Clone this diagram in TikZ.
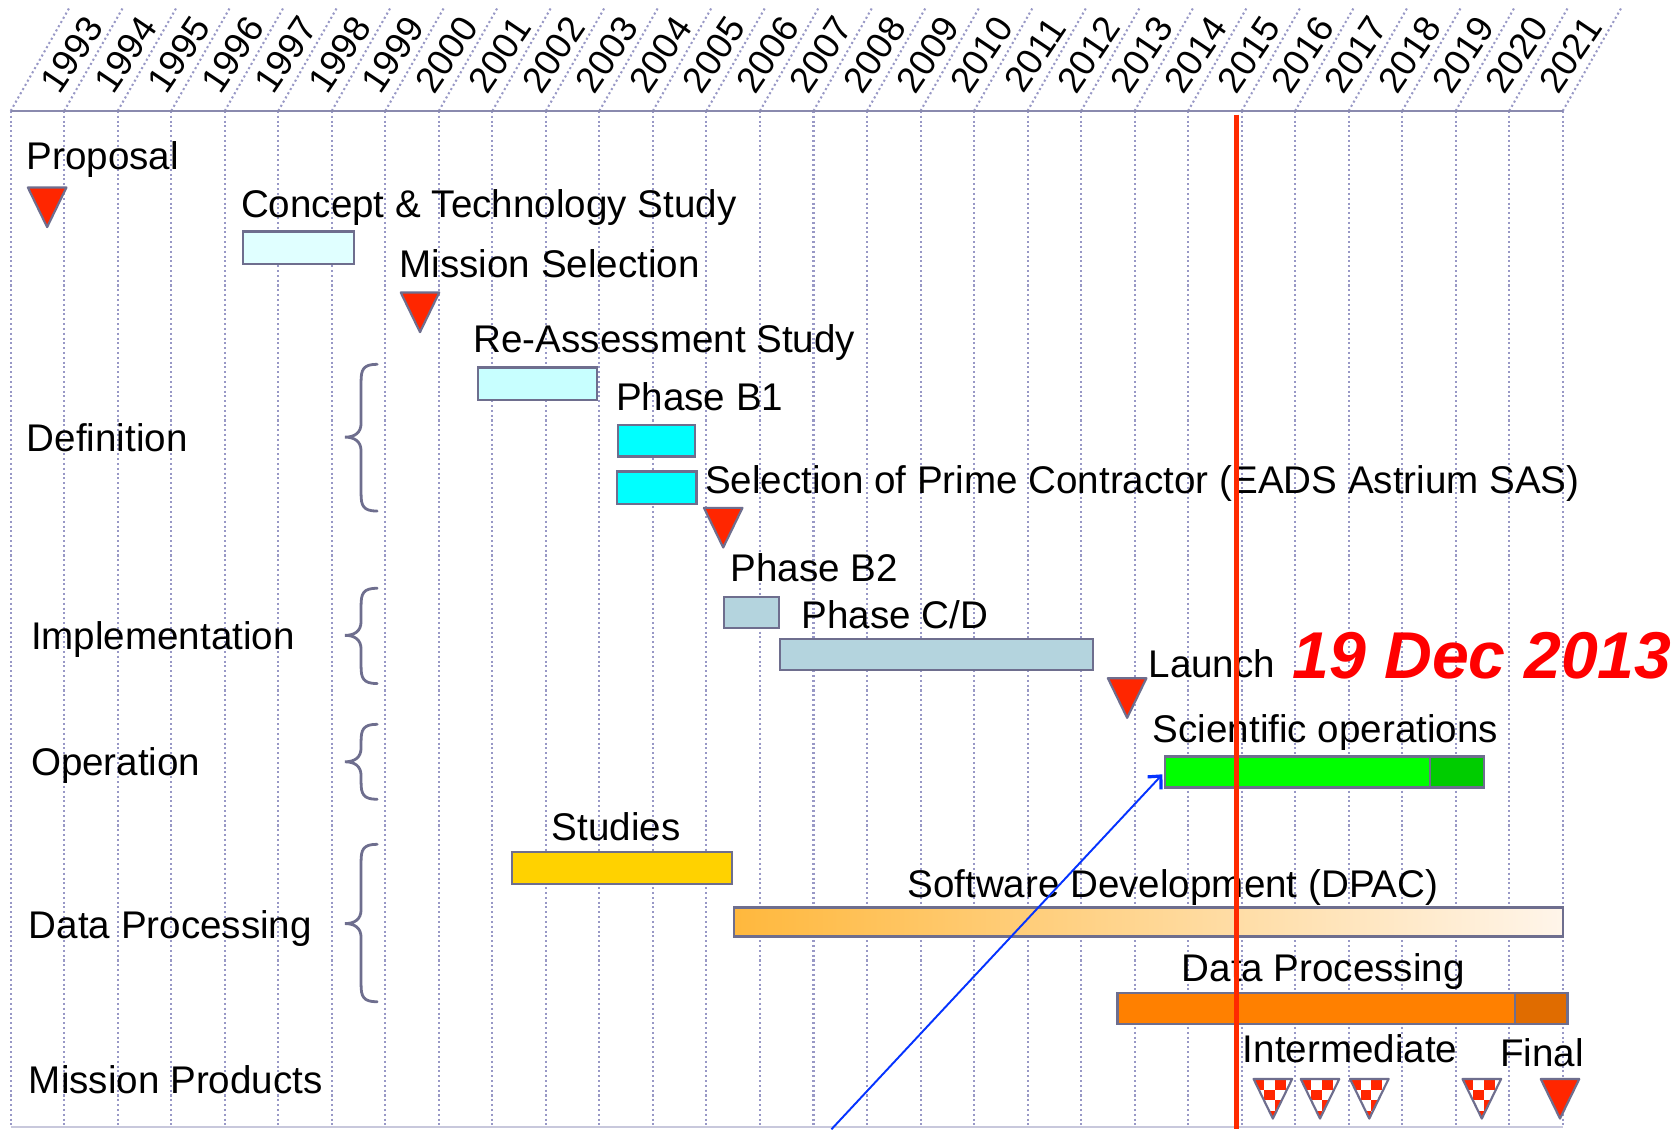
\documentclass[tikz,border=0pt]{standalone}
\usepackage{fontspec}
\setmainfont{Liberation Sans}
\usetikzlibrary{arrows.meta}

\definecolor{gridc}{HTML}{9898C6}
\definecolor{axisc}{HTML}{8A8AAE}
\definecolor{basec}{HTML}{C8C8DC}
\definecolor{edgec}{HTML}{6E6E8E}
\definecolor{mred}{HTML}{FF2600}
\definecolor{nowred}{HTML}{FF2A00}
\definecolor{paleCyan}{HTML}{E0FFFF}
\definecolor{lightCyan}{HTML}{C8FFFF}
\definecolor{fullCyan}{HTML}{00FFFF}
\definecolor{steel}{HTML}{B4D4DE}
\definecolor{opsGreen}{HTML}{00FF00}
\definecolor{opsDark}{HTML}{00CC00}
\definecolor{gold}{HTML}{FFD200}
\definecolor{swLeft}{HTML}{FFB83D}
\definecolor{swRight}{HTML}{FFF5EA}
\definecolor{dpOrange}{HTML}{FF8000}
\definecolor{dpDark}{HTML}{E06C00}
\definecolor{arrowBlue}{HTML}{0533FF}

\newcommand\bodyfont{\fontsize{36}{42}\selectfont}
\newcommand\yearfont{\fontsize{34}{40}\selectfont}
\newcommand\datefont{\fontsize{61.8}{72}\selectfont\bfseries\itshape}

% curly brace opening to the right: top, tip, bottom (y values)
\newcommand\gbrace[3]{%
  \draw[bracestyle] (352,#1) .. controls (339,#1) and (337,#1+5) .. (337,#1+16)
    -- (337,#2-13) .. controls (337,#2-4) and (331,#2) .. (322,#2)
    .. controls (331,#2) and (337,#2+4) .. (337,#2+13)
    -- (337,#3-16) .. controls (337,#3-5) and (339,#3) .. (352,#3);}

\tikzset{
  gridline/.style={gridc, line width=1.9, dash pattern=on 1.9 off 2.6},
  label/.style={font=\bodyfont, inner sep=0, outer sep=0, anchor=base west},
  yearlabel/.style={font=\yearfont, inner sep=0, rotate=56},
  box/.style={draw=edgec, line width=2, inner sep=0, outer sep=0, anchor=north west},
  bracestyle/.style={edgec, line width=2.6, line cap=round},
  nowline/.style={nowred, line width=5},
  pointer/.style={arrowBlue, line width=1.8, -{Straight Barb[length=9, width=17, line width=3]}},
  milestone/.pic={
    \draw[edgec, line width=2, fill=mred, line join=round] (-18,0) -- (18,0) -- (0,37) -- cycle;},
  checkstone/.pic={
    \begin{scope}
      \clip (-18,0) -- (18,0) -- (0,37) -- cycle;
      \fill[white] (-18,0) rectangle (18,37);
      \foreach \r in {0,...,3}{\foreach \c in {0,...,3}{%
        \pgfmathtruncatemacro\chk{mod(\r+\c,2)}%
        \ifnum\chk=0 \fill[mred] ({-18+10*\c},{10*\r}) rectangle ++(10,10);\fi}}
    \end{scope}
    \draw[edgec, line width=2, line join=round] (-18,0) -- (18,0) -- (0,37) -- cycle;}
}

\begin{document}
\begin{tikzpicture}[x=1pt, y=-1pt]
\fill[white] (0,0) rectangle (1568,1054);
\useasboundingbox (0,0) rectangle (1568,1054);

% year grid: dotted column lines, slanted above the axis
\foreach \k in {0,...,29}{
  \draw[gridline] ({10+49.95*\k},103.5) -- ({10+49.95*\k},1052);
  \draw[gridline] ({10+49.95*\k},103.5) -- ({64.4+49.95*\k},7.8);
}
\draw[axisc, line width=2] (10,103.5) -- (1458.6,103.5);
\draw[basec, line width=2] (10,1052) -- (1458.6,1052);
\foreach \yr [count=\k from 0] in {1993,...,2021}
  \node[yearlabel] (yr\yr) at ({67+49.95*\k},51) {\yr};

% phase groups on the left
\node[label] (proposal) at (25,158) {Proposal};
\node[label] (definition) at (25,421) {Definition};
\node[label] (implementation) at (29,606) {Implementation};
\node[label] (operation) at (29,724) {Operation};
\node[label] (dataproc) at (27,876) {Data Processing};
\node[label] (products) at (27,1021) {Mission Products};
\gbrace{340}{408}{477}
\gbrace{549}{593}{638}
\gbrace{676}{711}{746}
\gbrace{788}{862}{935}

% activity bars
\node[box, fill=paleCyan, minimum width=103, minimum height=30] (concept) at (227,216) {};
\node[box, fill=lightCyan, minimum width=111, minimum height=30] (reassess) at (446,343) {};
\node[box, fill=fullCyan, minimum width=72, minimum height=29] (phaseB1) at (577,397) {};
\node[box, fill=fullCyan, minimum width=74, minimum height=30] (primesel) at (576,440) {};
\node[box, fill=steel, minimum width=51, minimum height=29] (phaseB2) at (676,557) {};
\node[box, fill=steel, minimum width=292, minimum height=29] (phaseCD) at (728,596) {};
\node[box, fill=opsGreen, minimum width=298, minimum height=29] (sciops) at (1087,706) {};
\node[box, fill=opsDark, minimum width=50, minimum height=29] (sciext) at (1335,706) {};
\node[box, fill=gold, minimum width=205, minimum height=30] (studies) at (478,795) {};
\node[box, left color=swLeft, right color=swRight, minimum width=774, minimum height=27] (software) at (685,847) {};
\node[box, fill=dpOrange, minimum width=420, minimum height=29] (dpbar) at (1043,927) {};
\node[box, fill=dpDark, minimum width=49, minimum height=29] (dpext) at (1414,927) {};

% bar and milestone captions
\node[label] (conceptText) at (225,203) {Concept \& Technology Study};
\node[label] (missionText) at (373,259) {Mission Selection};
\node[label] (reassessText) at (442,329) {Re-Assessment Study};
\node[label] (phaseB1Text) at (575,383) {Phase B1};
\node[label] (primeText) at (658,461) {Selection of Prime Contractor (EADS Astrium SAS)};
\node[label] (phaseB2Text) at (682,543) {Phase B2};
\node[label] (phaseCDText) at (748,587) {Phase C/D};
\node[label] (launchText) at (1072,632) {Launch};
\node[font=\datefont, text=red, inner sep=0, anchor=base west] (launchDate) at (1206,633) {19 Dec 2013};
\node[label] (sciopsText) at (1076,693) {Scientific operations};
\node[label] (studiesText) at (515,784) {Studies};
\node[label] (softwareText) at (847,838) {Software Development (DPAC)};
\node[label] (dpText) at (1103,916) {Data Processing};
\node[label] (interText) at (1160,992) {Intermediate};
\node[label] (finalText) at (1400,995) {Final};

% milestones
\pic (msProposal) at (44,175) {milestone};
\pic (msMission) at (392,273) {milestone};
\pic (msPrime) at (675,474) {milestone};
\pic (msLaunch) at (1052,633) {milestone};
\pic (msInterA) at (1188,1007) {checkstone};
\pic (msInterB) at (1232,1007) {checkstone};
\pic (msInterC) at (1278,1007) {checkstone};
\pic (msInterD) at (1383,1007) {checkstone};
\pic (msFinal) at (1456,1007) {milestone};

% pointer to the start of operations
\coordinate (pointerFoot) at (776,1054);
\draw[pointer, shorten >=3] (pointerFoot) -- (sciops.west);

% today marker
\coordinate (nowTop) at (1154,107);
\coordinate (nowBottom) at (1154,1054);
\draw[nowline] (nowTop) -- (nowBottom);
\end{tikzpicture}
\end{document}
